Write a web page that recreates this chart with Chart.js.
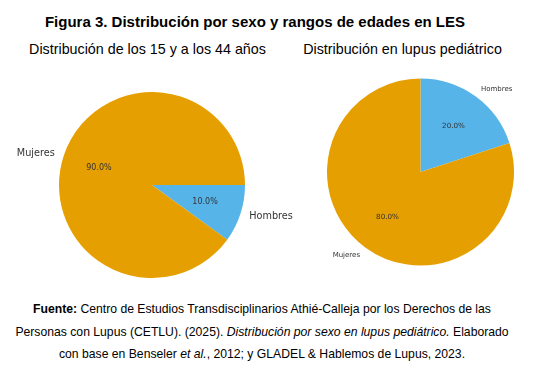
<!DOCTYPE html>
<html>
<head>
<meta charset="utf-8">
<script src="https://cdn.jsdelivr.net/npm/chart.js@4.4.1/dist/chart.umd.min.js"></script>
<style>
  body { margin: 0; background: #fff; width: 560px; height: 373px; position: relative; overflow: hidden; font-family: "Liberation Sans", Arial, sans-serif; color: #000; }
  .t { position: absolute; text-align: center; white-space: nowrap; }
  #title { left: 0; width: 510px; top: 13px; font-size: 15px; font-weight: bold; }
  #sub1 { left: 0; width: 295px; top: 41px; font-size: 14.3px; }
  #sub2 { left: 290px; width: 225px; top: 41px; font-size: 14.3px; }
  #foot { left: 0; width: 524px; top: 298px; font-size: 12.2px; line-height: 22.5px; }
  .box { position: absolute; }
</style>
</head>
<body>
<div class="t" id="title">Figura 3. Distribución por sexo y rangos de edades en LES</div>
<div class="t" id="sub1">Distribución de los 15 y a los 44 años</div>
<div class="t" id="sub2">Distribución en lupus pediátrico</div>
<div class="t" id="foot"><b>Fuente:</b> Centro de Estudios Transdisciplinarios Athié-Calleja por los Derechos de las<br>Personas con Lupus (CETLU). (2025). <i>Distribución por sexo en lupus pediátrico.</i> Elaborado<br>con base en Benseler <i>et al.</i>, 2012; y GLADEL &amp; Hablemos de Lupus, 2023.</div>
<div class="box" style="left:0;top:85px;width:300px;height:200px"><canvas id="c1"></canvas></div>
<div class="box" style="left:290px;top:70px;width:270px;height:210px"><canvas id="c2"></canvas></div>
<script>
// Pie data
const categories = ['Hombres', 'Mujeres'];
const adultValues = [10, 90];
const pediatricValues = [20, 80];
const sliceColors = ['#56B4E9', '#E69F00'];

// Draws labels outside (1.1r) and percentages inside (0.6r) like matplotlib
function pieLabels(labelSize, pctSize) {
  return {
    id: 'pieLabels',
    afterDatasetsDraw(chart) {
      const ctx = chart.ctx;
      const meta = chart.getDatasetMeta(0);
      const data = chart.data.datasets[0].data;
      const total = data.reduce((s, v) => s + v, 0);
      ctx.save();
      ctx.fillStyle = '#333';
      ctx.textBaseline = 'middle';
      meta.data.forEach((arc, i) => {
        const mid = (arc.startAngle + arc.endAngle) / 2;
        const r = arc.outerRadius;
        const lx = arc.x + Math.cos(mid) * r * 1.1;
        const ly = arc.y + Math.sin(mid) * r * 1.1;
        ctx.font = labelSize + 'px "DejaVu Sans"';
        ctx.textAlign = Math.cos(mid) < 0 ? 'right' : 'left';
        ctx.fillText(chart.data.labels[i], lx, ly);
        ctx.font = pctSize + 'px "DejaVu Sans"';
        ctx.textAlign = 'center';
        const pct = (data[i] / total * 100).toFixed(1) + '%';
        ctx.fillText(pct, arc.x + Math.cos(mid) * r * 0.6, arc.y + Math.sin(mid) * r * 0.6);
      });
      ctx.restore();
    }
  };
}

function makePie(id, values, rotation, padding, labelSize, pctSize) {
  new Chart(document.getElementById(id), {
    type: 'pie',
    data: {
      labels: categories,
      datasets: [{ data: values, backgroundColor: sliceColors, borderWidth: 0 }]
    },
    options: {
      responsive: true,
      maintainAspectRatio: false,
      animation: false,
      rotation: rotation,
      layout: { padding: padding },
      plugins: { legend: { display: false }, tooltip: { enabled: false } }
    },
    plugins: [pieLabels(labelSize, pctSize)]
  });
}

makePie('c1', adultValues, 90, { left: 4, right: 0, top: 7, bottom: 7 }, 9.7, 8);
makePie('c2', pediatricValues, 0, { left: 0, right: 9, top: 8.5, bottom: 14.5 }, 7, 7.2);
</script>
</body>
</html>
